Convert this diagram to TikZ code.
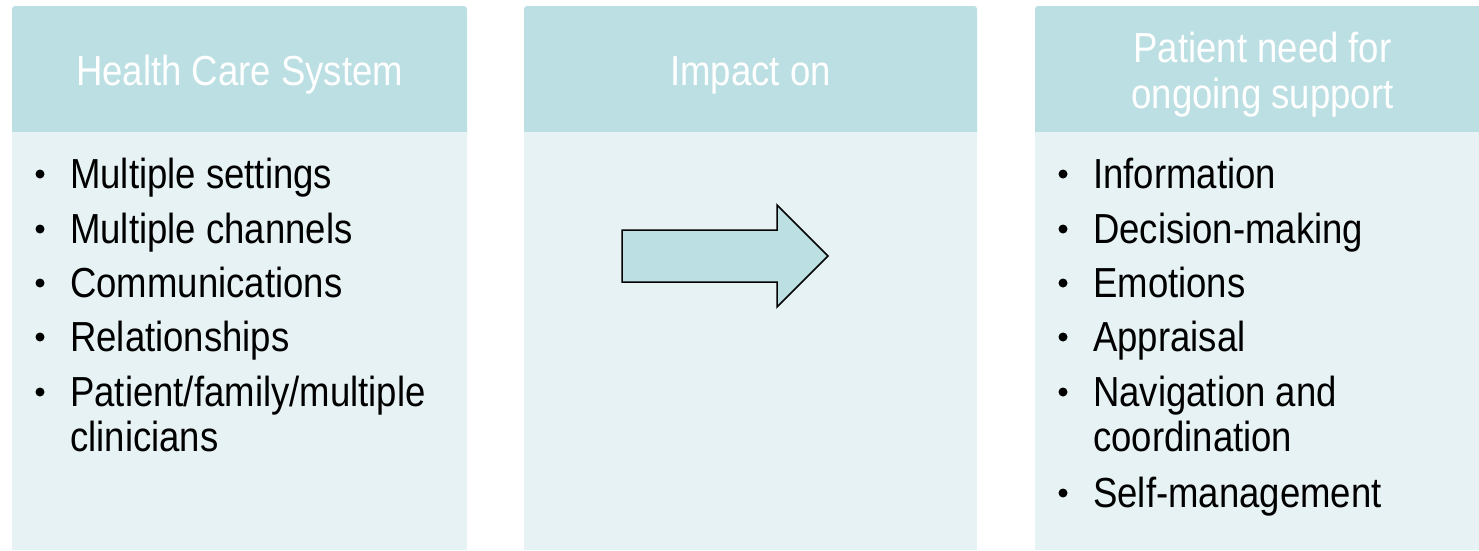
\documentclass[tikz,border=0pt]{standalone}
\usepackage{fontspec}
\setmainfont{Liberation Sans}[FakeStretch=0.87]
\definecolor{headc}{HTML}{BBDFE2}
\definecolor{bodyc}{HTML}{E6F2F3}
\begin{document}
\begin{tikzpicture}[x=1pt,y=-1pt,
  head/.style={fill=headc, rounded corners=3pt},
  body/.style={fill=bodyc},
  htext/.style={text=white, font=\fontsize{42}{46}\selectfont, anchor=base, inner sep=0pt},
  itext/.style={text=black, font=\fontsize{42}{46}\selectfont, anchor=base west, inner sep=0pt},
  bul/.style={circle, fill=black, draw=none, inner sep=0pt, minimum size=9pt}]
\useasboundingbox (0,0) rectangle (1479,550);
% panels
\fill[head] (12,6) rectangle (467,140);
\fill[body] (12,132) rectangle (467,550);
\fill[head] (524,6) rectangle (977,140);
\fill[body] (524,132) rectangle (977,550);
\fill[head] (1035,6) rectangle (1490,140);
\fill[body] (1035,132) rectangle (1490,550);
% headers
\node[htext] (h1) at (239.5,85) {Health Care System};
\node[htext] (h2) at (750.5,85) {Impact on};
\node[htext] (h3a) at (1262.5,62) {Patient need for};
\node[htext] (h3b) at (1262.5,108) {ongoing support};
% left list
\foreach \y/\t [count=\i] in {188/Multiple settings,243/Multiple channels,297/Communications,351/Relationships,406/Patient\slash family\slash multiple}{
  \node[bul] (lb\i) at (40,\y-14) {};
  \node[itext] (lt\i) at (70,\y) {\t};
}
\node[itext] (lt6) at (70,451) {clinicians};
% right list
\foreach \y/\t [count=\i] in {188/Information,243/Decision-making,297/Emotions,351/Appraisal,406/Navigation and,507/Self-management}{
  \node[bul] (rb\i) at (1063,\y-14) {};
  \node[itext] (rt\i) at (1093,\y) {\t};
}
\node[itext] (rt7) at (1093,451) {coordination};
% arrow
\draw[fill=headc, line width=1.5pt, line join=miter]
  (622,230) -- (777,230) -- (777,205) -- (828,256) -- (777,307) -- (777,282) -- (622,282) -- cycle;
\end{tikzpicture}
\end{document}
